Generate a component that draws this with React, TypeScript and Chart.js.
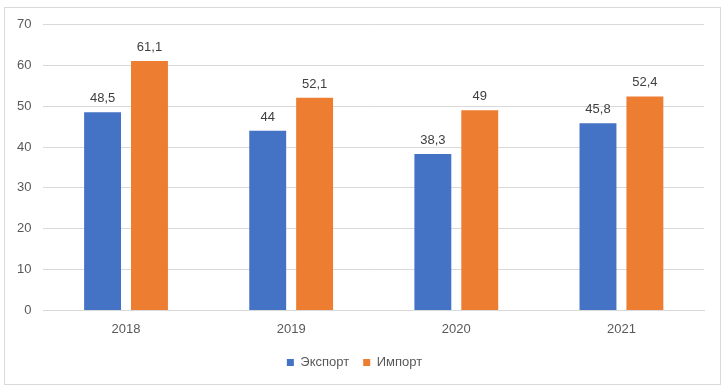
import React, { useEffect, useRef } from "react";
import { Chart, registerables } from "chart.js";

Chart.register(...registerables);

const categories = ["2018", "2019", "2020", "2021"];
const exportValues = [48.5, 44, 38.3, 45.8];
const importValues = [61.1, 52.1, 49, 52.4];
const seriesNames = ["Экспорт", "Импорт"];
const yTicks = [0, 10, 20, 30, 40, 50, 60, 70];

const FONT = "'Liberation Sans', Arial, sans-serif";
const TEXT = "#595959";
const FS = 13;
const LEGEND_SHRINK = 6;

const dataLabels = {
  id: "dataLabels",
  afterInit(chart: any) {
    const lg = chart.legend;
    if (lg && !lg.__patched) {
      const orig = lg.fit.bind(lg);
      lg.fit = function () {
        orig();
        this.height -= LEGEND_SHRINK;
      };
      lg.__patched = true;
    }
  },
  afterLayout(chart: any) {
    const lg = chart.legend;
    if (lg) {
      lg.top -= LEGEND_SHRINK;
      lg.bottom -= LEGEND_SHRINK;
      if (lg.adjustHitBoxes) lg.adjustHitBoxes();
    }
  },
  afterDatasetsDraw(chart: any) {
    const ctx = chart.ctx;
    ctx.save();
    ctx.font = `${FS}px ${FONT}`;
    ctx.fillStyle = "#404040";
    ctx.textAlign = "center";
    ctx.textBaseline = "bottom";
    chart.data.datasets.forEach((ds: any, i: number) => {
      const meta = chart.getDatasetMeta(i);
      meta.data.forEach((bar: any, j: number) => {
        const v = ds.data[j];
        const s = String(v).replace(".", ",");
        ctx.fillText(s, bar.x, bar.y - 7);
      });
    });
    ctx.restore();
  },
};

export default function App() {
  const ref = useRef<HTMLCanvasElement>(null);
  useEffect(() => {
    const chart = new Chart(ref.current!, {
      type: "bar",
      data: {
        labels: categories,
        datasets: [
          {
            label: seriesNames[0],
            data: exportValues,
            backgroundColor: "#4472C4",
            categoryPercentage: 0.568,
            barPercentage: 0.787,
          },
          {
            label: seriesNames[1],
            data: importValues,
            backgroundColor: "#ED7D31",
            categoryPercentage: 0.568,
            barPercentage: 0.787,
          },
        ],
      },
      options: {
        animation: false,
        responsive: true,
        maintainAspectRatio: false,
        layout: { padding: { top: 8, right: 16, left: 0, bottom: 5 } },
        plugins: {
          tooltip: { enabled: false },
          legend: {
            position: "bottom",
            labels: {
              boxWidth: 7,
              boxHeight: 7,
              padding: 14,
              color: TEXT,
              font: { family: FONT, size: FS },
            },
          },
        },
        scales: {
          x: {
            grid: { display: false, drawTicks: false },
            border: { display: true, color: "#d9d9d9" },
            ticks: { color: TEXT, font: { family: FONT, size: FS }, padding: 11 },
          },
          y: {
            min: yTicks[0],
            max: yTicks[yTicks.length - 1],
            afterBuildTicks: (axis: any) => {
              axis.ticks = yTicks.map((v) => ({ value: v }));
            },
            grid: { color: "#d9d9d9", drawTicks: false },
            border: { display: false },
            ticks: {
              color: TEXT,
              font: { family: FONT, size: FS, lineHeight: 0.7 },
              padding: 12,
            },
          },
        },
      },
      plugins: [dataLabels],
    });
    return () => chart.destroy();
  }, []);
  return (
    <div style={{ position: "fixed", left: 0, top: 0, width: 725, height: 391, background: "#fff" }}>
      <div
        style={{
          position: "absolute",
          left: 4,
          top: 7,
          width: 715,
          height: 376,
          border: "1px solid #d9d9d9",
        }}
      >
        <canvas ref={ref} />
      </div>
    </div>
  );
}
